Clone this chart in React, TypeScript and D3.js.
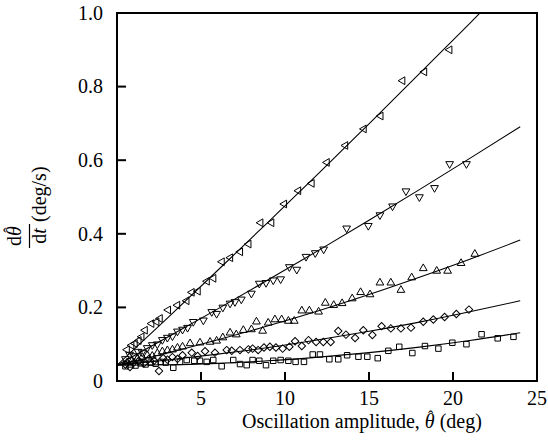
import React from "react";
import * as d3 from "d3";

const W = 548;
const H = 446;
const M = { left: 117, right: 537, top: 13, bottom: 381 };

const xTicks = [5, 10, 15, 20, 25];
const xTickLabels = ["5", "10", "15", "20", "25"];
const yTicks = [0, 0.2, 0.4, 0.6, 0.8, 1.0];
const yTickLabels = ["0", "0.2", "0.4", "0.6", "0.8", "1.0"];

// Fitted curves
const fitX = [0, 3, 6, 9, 12, 15, 18, 21, 24];
const fitLeftTri = [0.043, 0.171, 0.301, 0.432, 0.564, 0.699, 0.835, 0.972, 1.111];
const fitDownTri = [0.043, 0.119, 0.196, 0.275, 0.355, 0.437, 0.52, 0.605, 0.691];
const fitUpTri = [0.043, 0.076, 0.112, 0.15, 0.191, 0.235, 0.282, 0.331, 0.383];
const fitDiamond = [0.043, 0.057, 0.073, 0.091, 0.112, 0.135, 0.16, 0.188, 0.218];
const fitSquare = [0.043, 0.044, 0.048, 0.055, 0.065, 0.077, 0.092, 0.11, 0.131];

const leftTriPts: [number, number][] = [
  [0.6, 0.085], [0.87, 0.097], [1.07, 0.102], [1.3, 0.11], [1.47, 0.12], [1.67, 0.138],
  [2.06, 0.156], [2.36, 0.161], [2.56, 0.17], [3.05, 0.193], [3.6, 0.206], [4.15, 0.218],
  [4.46, 0.241], [4.82, 0.244], [5.36, 0.271], [5.75, 0.279], [6.25, 0.324], [6.75, 0.335],
  [7.34, 0.351], [7.84, 0.372], [8.55, 0.43], [9.2, 0.43], [9.96, 0.481], [10.8, 0.517],
  [11.6, 0.537], [12.5, 0.594], [13.6, 0.64], [14.7, 0.685], [15.7, 0.72], [17.0, 0.816],
  [18.3, 0.84], [19.8, 0.9],
];

const downTriPts: [number, number][] = [
  [0.5, 0.06], [0.75, 0.072], [1.0, 0.068], [1.25, 0.08], [1.5, 0.078], [1.8, 0.09],
  [2.1, 0.098], [2.4, 0.1], [2.7, 0.112], [3.0, 0.118], [3.3, 0.122], [3.6, 0.135],
  [3.9, 0.14], [4.2, 0.145], [4.54, 0.161], [5.14, 0.165], [5.64, 0.188], [5.93, 0.183],
  [6.3, 0.2], [6.73, 0.211], [7.02, 0.215], [7.4, 0.222], [8.0, 0.238], [8.47, 0.265],
  [8.87, 0.267], [9.3, 0.274], [9.74, 0.277], [10.26, 0.31], [10.7, 0.303], [11.25, 0.338],
  [11.8, 0.348], [12.3, 0.358], [13.67, 0.415], [14.96, 0.422], [15.65, 0.451], [16.4, 0.475],
  [17.2, 0.516], [18.0, 0.5], [18.9, 0.525], [19.8, 0.59], [20.8, 0.59],
];

const upTriPts: [number, number][] = [
  [0.6, 0.05], [0.9, 0.055], [1.2, 0.06], [1.5, 0.065], [1.8, 0.07], [2.1, 0.068],
  [2.4, 0.075], [2.7, 0.08], [3.0, 0.083], [3.3, 0.085], [3.6, 0.09], [3.9, 0.093],
  [4.35, 0.102], [4.94, 0.104], [5.54, 0.106], [5.93, 0.109], [6.3, 0.118], [6.73, 0.131],
  [7.1, 0.126], [7.52, 0.138], [8.0, 0.14], [8.3, 0.161], [8.67, 0.136], [9.0, 0.158],
  [9.4, 0.167], [9.8, 0.167], [10.2, 0.163], [10.55, 0.163], [11.0, 0.191], [11.45, 0.191],
  [12.0, 0.188], [12.4, 0.212], [12.9, 0.206], [13.4, 0.211], [14.0, 0.224], [14.5, 0.241],
  [15.06, 0.235], [15.65, 0.267], [16.3, 0.267], [16.9, 0.247], [17.54, 0.281], [18.23, 0.306],
  [19.03, 0.299], [19.68, 0.299], [20.48, 0.32], [21.3, 0.345],
];

const diamondPts: [number, number][] = [
  [0.5, 0.045], [0.77, 0.038], [1.0, 0.05], [1.3, 0.055], [1.6, 0.048], [1.9, 0.06],
  [2.2, 0.055], [2.5, 0.027], [2.75, 0.062], [3.0, 0.058], [3.3, 0.065], [3.6, 0.06],
  [3.9, 0.07], [4.45, 0.077], [4.8, 0.068], [5.24, 0.081], [5.83, 0.077], [6.53, 0.084],
  [6.83, 0.082], [7.32, 0.084], [7.82, 0.086], [8.07, 0.088], [8.4, 0.084], [8.75, 0.091],
  [9.1, 0.093], [9.46, 0.091], [9.86, 0.088], [10.26, 0.093], [10.6, 0.108], [11.0, 0.095],
  [11.4, 0.111], [11.85, 0.106], [12.28, 0.106], [12.72, 0.106], [13.17, 0.136], [13.63, 0.126],
  [14.17, 0.117], [14.66, 0.138], [15.2, 0.125], [15.75, 0.149], [16.3, 0.143], [16.9, 0.143],
  [17.5, 0.145], [18.23, 0.161], [18.83, 0.167], [19.5, 0.174], [20.2, 0.182], [20.95, 0.194],
];

const squarePts: [number, number][] = [
  [0.5, 0.04], [0.8, 0.045], [1.1, 0.042], [1.4, 0.048], [1.7, 0.045], [2.0, 0.05],
  [2.3, 0.047], [2.6, 0.052], [2.9, 0.05], [3.35, 0.036], [3.75, 0.052], [4.15, 0.057],
  [4.6, 0.055], [4.94, 0.055], [5.34, 0.052], [5.73, 0.057], [6.23, 0.04], [6.92, 0.057],
  [7.32, 0.046], [7.72, 0.043], [8.07, 0.057], [8.47, 0.055], [8.87, 0.043], [9.3, 0.055],
  [9.74, 0.057], [10.2, 0.055], [10.63, 0.052], [11.13, 0.052], [11.65, 0.072], [12.08, 0.072],
  [12.64, 0.059], [13.17, 0.059], [13.7, 0.07], [14.37, 0.066], [14.9, 0.066], [15.52, 0.062],
  [16.15, 0.082], [16.8, 0.093], [17.58, 0.076], [18.33, 0.095], [19.13, 0.088], [19.96, 0.104],
  [20.8, 0.1], [21.7, 0.127], [22.66, 0.116], [23.6, 0.12],
];

const FONT = "'Liberation Serif', 'Times New Roman', serif";
const FS = 20;

export default function App() {
  const x = d3.scaleLinear().domain([0, 25]).range([M.left, M.right]);
  const y = d3.scaleLinear().domain([0, 1]).range([M.bottom, M.top]);

  const line = d3
    .line<[number, number]>()
    .x((d) => x(d[0]))
    .y((d) => y(d[1]))
    .curve(d3.curveMonotoneX);

  const fits = [fitLeftTri, fitDownTri, fitUpTri, fitDiamond, fitSquare].map((ys) =>
    fitX.map((v, i) => [v, ys[i]] as [number, number])
  );

  const triPath = d3.symbol(d3.symbolTriangle, 26)()!;
  const sqPath = d3.symbol(d3.symbolSquare, 30)()!;
  const diaPath = d3.symbol(d3.symbolSquare, 28)()!;

  const series = [
    { pts: leftTriPts, path: triPath, rot: -90 },
    { pts: downTriPts, path: triPath, rot: 180 },
    { pts: upTriPts, path: triPath, rot: 0 },
    { pts: diamondPts, path: diaPath, rot: 45 },
    { pts: squarePts, path: sqPath, rot: 0 },
  ];

  const tickLen = 9;
  const yLabelCenter = (M.top + M.bottom) / 2;

  return (
    <svg
      width={W}
      height={H}
      style={{ position: "absolute", left: 0, top: 0, background: "#fff" }}
      fontFamily={FONT}
    >
      <rect x={0} y={0} width={W} height={H} fill="#fff" />
      <defs>
        <clipPath id="plotClip">
          <rect x={M.left} y={M.top} width={M.right - M.left} height={M.bottom - M.top} />
        </clipPath>
      </defs>

      <g clipPath="url(#plotClip)">
        {fits.map((f, i) => (
          <path key={i} d={line(f)!} fill="none" stroke="#000" strokeWidth={1.1} />
        ))}
      </g>

      {series.map((s, si) => (
        <g key={si}>
          {s.pts.map((p, i) => (
            <path
              key={i}
              d={s.path}
              transform={`translate(${x(p[0])},${y(p[1])}) rotate(${s.rot})`}
              fill="none"
              stroke="#000"
              strokeWidth={1}
            />
          ))}
        </g>
      ))}

      {/* frame */}
      <rect
        x={M.left}
        y={M.top}
        width={M.right - M.left}
        height={M.bottom - M.top}
        fill="none"
        stroke="#000"
        strokeWidth={2}
      />

      {/* x ticks */}
      {xTicks.map((t, i) => (
        <g key={"xt" + i}>
          {t < 25 && (
            <line x1={x(t)} x2={x(t)} y1={M.bottom} y2={M.bottom - tickLen} stroke="#000" strokeWidth={2} />
          )}
          <text x={x(t)} y={405} fontSize={FS} textAnchor="middle">
            {xTickLabels[i]}
          </text>
        </g>
      ))}

      {/* y ticks */}
      {yTicks.map((t, i) => (
        <g key={"yt" + i}>
          {i > 0 && i < yTicks.length - 1 && (
            <line x1={M.left} x2={M.left + tickLen} y1={y(t)} y2={y(t)} stroke="#000" strokeWidth={2} />
          )}
          <text x={103} y={y(t)} dy="0.34em" fontSize={FS} textAnchor="end">
            {yTickLabels[i]}
          </text>
        </g>
      ))}

      {/* x axis title */}
      <text x={362} y={428} fontSize={FS} textAnchor="middle">
        <tspan>Oscillation amplitude, </tspan>
        <tspan fontStyle="italic">θ</tspan>
        <tspan dx={-6.6} dy={-6} fontSize={16}>ˆ</tspan>
        <tspan dx={1.3} dy={6}> (deg)</tspan>
      </text>

      {/* y axis title (rotated) */}
      <g transform={`translate(0,${yLabelCenter}) rotate(-90)`}>
        <text x={-39} y={21} fontSize={FS} textAnchor="middle">
          <tspan>d</tspan>
          <tspan fontStyle="italic">θ</tspan>
          <tspan dx={-6.6} dy={-6} fontSize={16}>ˆ</tspan>
        </text>
        <line x1={-51} x2={-27} y1={29.5} y2={29.5} stroke="#000" strokeWidth={1.2} />
        <text x={-39} y={46} fontSize={FS} textAnchor="middle">
          d<tspan fontStyle="italic">t</tspan>
        </text>
        <text x={-25} y={46} fontSize={FS} textAnchor="start">
          (deg/s)
        </text>
      </g>
    </svg>
  );
}
